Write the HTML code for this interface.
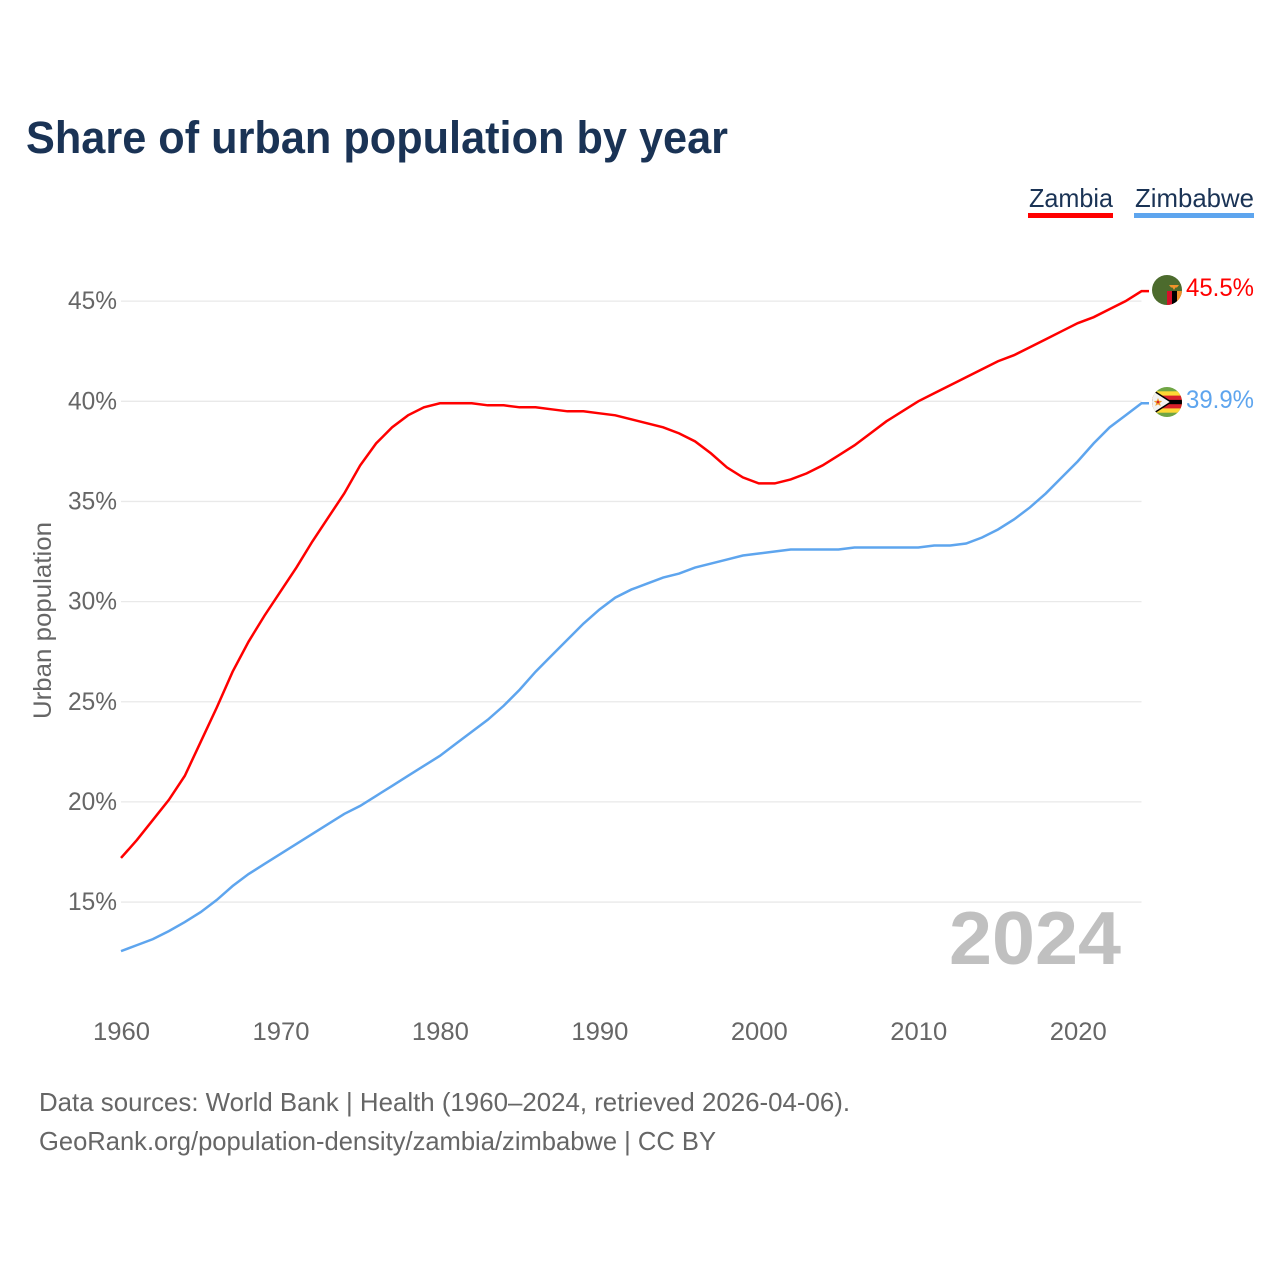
<!DOCTYPE html>
<html lang="en">
<head>
<meta charset="utf-8">
<title>Share of urban population by year</title>
<style>
html,body{margin:0;padding:0;background:#fff;width:1280px;height:1280px;overflow:hidden}
svg{display:block;font-family:"Liberation Sans",sans-serif}
</style>
</head>
<body>
<svg id="chart" xmlns="http://www.w3.org/2000/svg" width="1280" height="1280" viewBox="0 0 1280 1280">
  <defs>
    <clipPath id="flag-clip-zm"><circle cx="1167" cy="290" r="15"/></clipPath>
    <clipPath id="flag-clip-zw"><circle cx="1167" cy="402" r="15"/></clipPath>
  </defs>
  <rect width="1280" height="1280" fill="#fff"/>
  <text x="26" y="153" font-size="45" font-weight="700" fill="#1a3355" textLength="702" lengthAdjust="spacingAndGlyphs">Share of urban population by year</text>

  <g>
    <text x="1029" y="207" font-size="26" fill="#1a3355" textLength="84" lengthAdjust="spacingAndGlyphs">Zambia</text>
    <rect x="1028" y="213" width="85" height="5" fill="#ff0000"/>
    <text x="1135" y="207" font-size="26" fill="#1a3355" textLength="119" lengthAdjust="spacingAndGlyphs">Zimbabwe</text>
    <rect x="1134" y="213" width="120" height="5" fill="#5ea5ee"/>
  </g>

  <g id="grid"></g>
  <g id="y-axis"></g>
  <g id="x-axis"></g>
  <text transform="translate(51 719) rotate(-90)" font-size="25" fill="#666" textLength="197" lengthAdjust="spacingAndGlyphs">Urban population</text>

  <text x="949" y="964" font-size="75" font-weight="700" fill="#c0c0c0" textLength="172" lengthAdjust="spacingAndGlyphs">2024</text>

  <g id="series"></g>

  <g clip-path="url(#flag-clip-zm)">
    <rect x="1152" y="275" width="30" height="30" fill="#4c6b2d"/>
    <rect x="1167" y="291" width="5" height="15" fill="#d8102a"/>
    <rect x="1172" y="291" width="5" height="15" fill="#000"/>
    <rect x="1177" y="291" width="5" height="15" fill="#f0932b"/>
    <path d="M1169 285h10l-2 2.500h-1.500l-1.500 2.500-1.500-2.500h-1.500z" fill="#f0932b"/>
  </g>
  <g clip-path="url(#flag-clip-zw)">
    <rect x="1152" y="387" width="30" height="30" fill="#6fa544"/>
    <rect x="1152" y="391.300" width="30" height="21.400" fill="#fdd835"/>
    <rect x="1152" y="395.600" width="30" height="12.800" fill="#d8202a"/>
    <rect x="1152" y="399.900" width="30" height="4.300" fill="#000"/>
    <path d="M1150 388.500L1171 402L1150 415.500z" fill="#f2f2f2" stroke="#000" stroke-width="1.500"/>
    <path d="M1158 398l1.200 2.800 3 .2-2.300 2 .8 3-2.700-1.600-2.700 1.600.8-3-2.300-2 3-.2z" fill="#f0a030"/>
    <circle cx="1158" cy="402" r="1.300" fill="#d8202a"/>
  </g>

  <text id="value-zambia" x="1186" y="296" font-size="25" fill="#ff0000" textLength="68" lengthAdjust="spacingAndGlyphs">45.5%</text>
  <text id="value-zimbabwe" x="1186" y="408" font-size="25" fill="#5ea5ee" textLength="68" lengthAdjust="spacingAndGlyphs">39.9%</text>

  <text x="39" y="1111" font-size="26" fill="#666" textLength="811" lengthAdjust="spacingAndGlyphs">Data sources: World Bank | Health (1960–2024, retrieved 2026-04-06).</text>
  <text x="39" y="1150" font-size="26" fill="#666" textLength="677" lengthAdjust="spacingAndGlyphs">GeoRank.org/population-density/zambia/zimbabwe | CC BY</text>
</svg>
<script>
const startYear = 1960;
const endYear = 2024;
const yTickValues = [15, 20, 25, 30, 35, 40, 45];
const xTickYears = [1960, 1970, 1980, 1990, 2000, 2010, 2020];
const zambiaValues = [17.2,18.1,19.1,20.1,21.3,23.0,24.7,26.5,28.0,29.3,30.5,31.7,33.0,34.2,35.4,36.8,37.9,38.7,39.3,39.7,39.9,39.9,39.9,39.8,39.8,39.7,39.7,39.6,39.5,39.5,39.4,39.3,39.1,38.9,38.7,38.4,38.0,37.4,36.7,36.2,35.9,35.9,36.1,36.4,36.8,37.3,37.8,38.4,39.0,39.5,40.0,40.4,40.8,41.2,41.6,42.0,42.3,42.7,43.1,43.5,43.9,44.2,44.6,45.0,45.5];
const zimbabweValues = [12.55,12.85,13.15,13.55,14.0,14.5,15.1,15.8,16.4,16.9,17.4,17.9,18.4,18.9,19.4,19.8,20.3,20.8,21.3,21.8,22.3,22.9,23.5,24.1,24.8,25.6,26.5,27.3,28.1,28.9,29.6,30.2,30.6,30.9,31.2,31.4,31.7,31.9,32.1,32.3,32.4,32.5,32.6,32.6,32.6,32.6,32.7,32.7,32.7,32.7,32.7,32.8,32.8,32.9,33.2,33.6,34.1,34.7,35.4,36.2,37.0,37.9,38.7,39.3,39.9];

const NS = 'http://www.w3.org/2000/svg';
function xScale(year) { return 121 + (year - startYear) * (1141.5 - 121) / (endYear - startYear); }
function yScale(v) { return 401.3 + (40 - v) * 20.03; }

const grid = document.getElementById('grid');
const yAxis = document.getElementById('y-axis');
yTickValues.forEach(function (t) {
  const line = document.createElementNS(NS, 'line');
  
  
  line.setAttribute('x1', 121);
  line.setAttribute('x2', 1141.5);
  line.setAttribute('y1', yScale(t));
  line.setAttribute('y2', yScale(t));
  line.setAttribute('stroke', '#e9e9e9');
  line.setAttribute('stroke-width', 1.3);
  grid.appendChild(line);
  const label = document.createElementNS(NS, 'text');
  
  
  label.setAttribute('x', 68);
  label.setAttribute('y', yScale(t) + 8);
  label.setAttribute('font-size', 25);
  label.setAttribute('fill', '#666');
  label.setAttribute('textLength', 49);
  label.setAttribute('lengthAdjust', 'spacingAndGlyphs');
  label.textContent = t + '%';
  yAxis.appendChild(label);
});

const xAxis = document.getElementById('x-axis');
xTickYears.forEach(function (y) {
  const label = document.createElementNS(NS, 'text');
  
  
  label.setAttribute('x', xScale(y) - 28);
  label.setAttribute('y', 1040);
  label.setAttribute('font-size', 25);
  label.setAttribute('fill', '#666');
  label.setAttribute('textLength', 57);
  label.setAttribute('lengthAdjust', 'spacingAndGlyphs');
  label.textContent = y;
  xAxis.appendChild(label);
});

function linePoints(values) {
  const pts = values.map(function (v, i) {
    return xScale(startYear + i).toFixed(2) + ',' + yScale(v).toFixed(2);
  });
  pts.push('1149,' + yScale(values[values.length - 1]).toFixed(2));
  return pts.join(' ');
}

const seriesGroup = document.getElementById('series');
const zambiaLine = document.createElementNS(NS, 'polyline');


zambiaLine.setAttribute('points', linePoints(zambiaValues));
zambiaLine.setAttribute('fill', 'none');
zambiaLine.setAttribute('stroke', '#ff0000');
zambiaLine.setAttribute('stroke-width', 2.5);
seriesGroup.appendChild(zambiaLine);

const zimbabweLine = document.createElementNS(NS, 'polyline');


zimbabweLine.setAttribute('points', linePoints(zimbabweValues));
zimbabweLine.setAttribute('fill', 'none');
zimbabweLine.setAttribute('stroke', '#5ea5ee');
zimbabweLine.setAttribute('stroke-width', 2.5);
seriesGroup.appendChild(zimbabweLine);

document.getElementById('value-zambia').textContent = zambiaValues[zambiaValues.length - 1].toFixed(1) + '%';
document.getElementById('value-zimbabwe').textContent = zimbabweValues[zimbabweValues.length - 1].toFixed(1) + '%';
</script>
</body>
</html>
